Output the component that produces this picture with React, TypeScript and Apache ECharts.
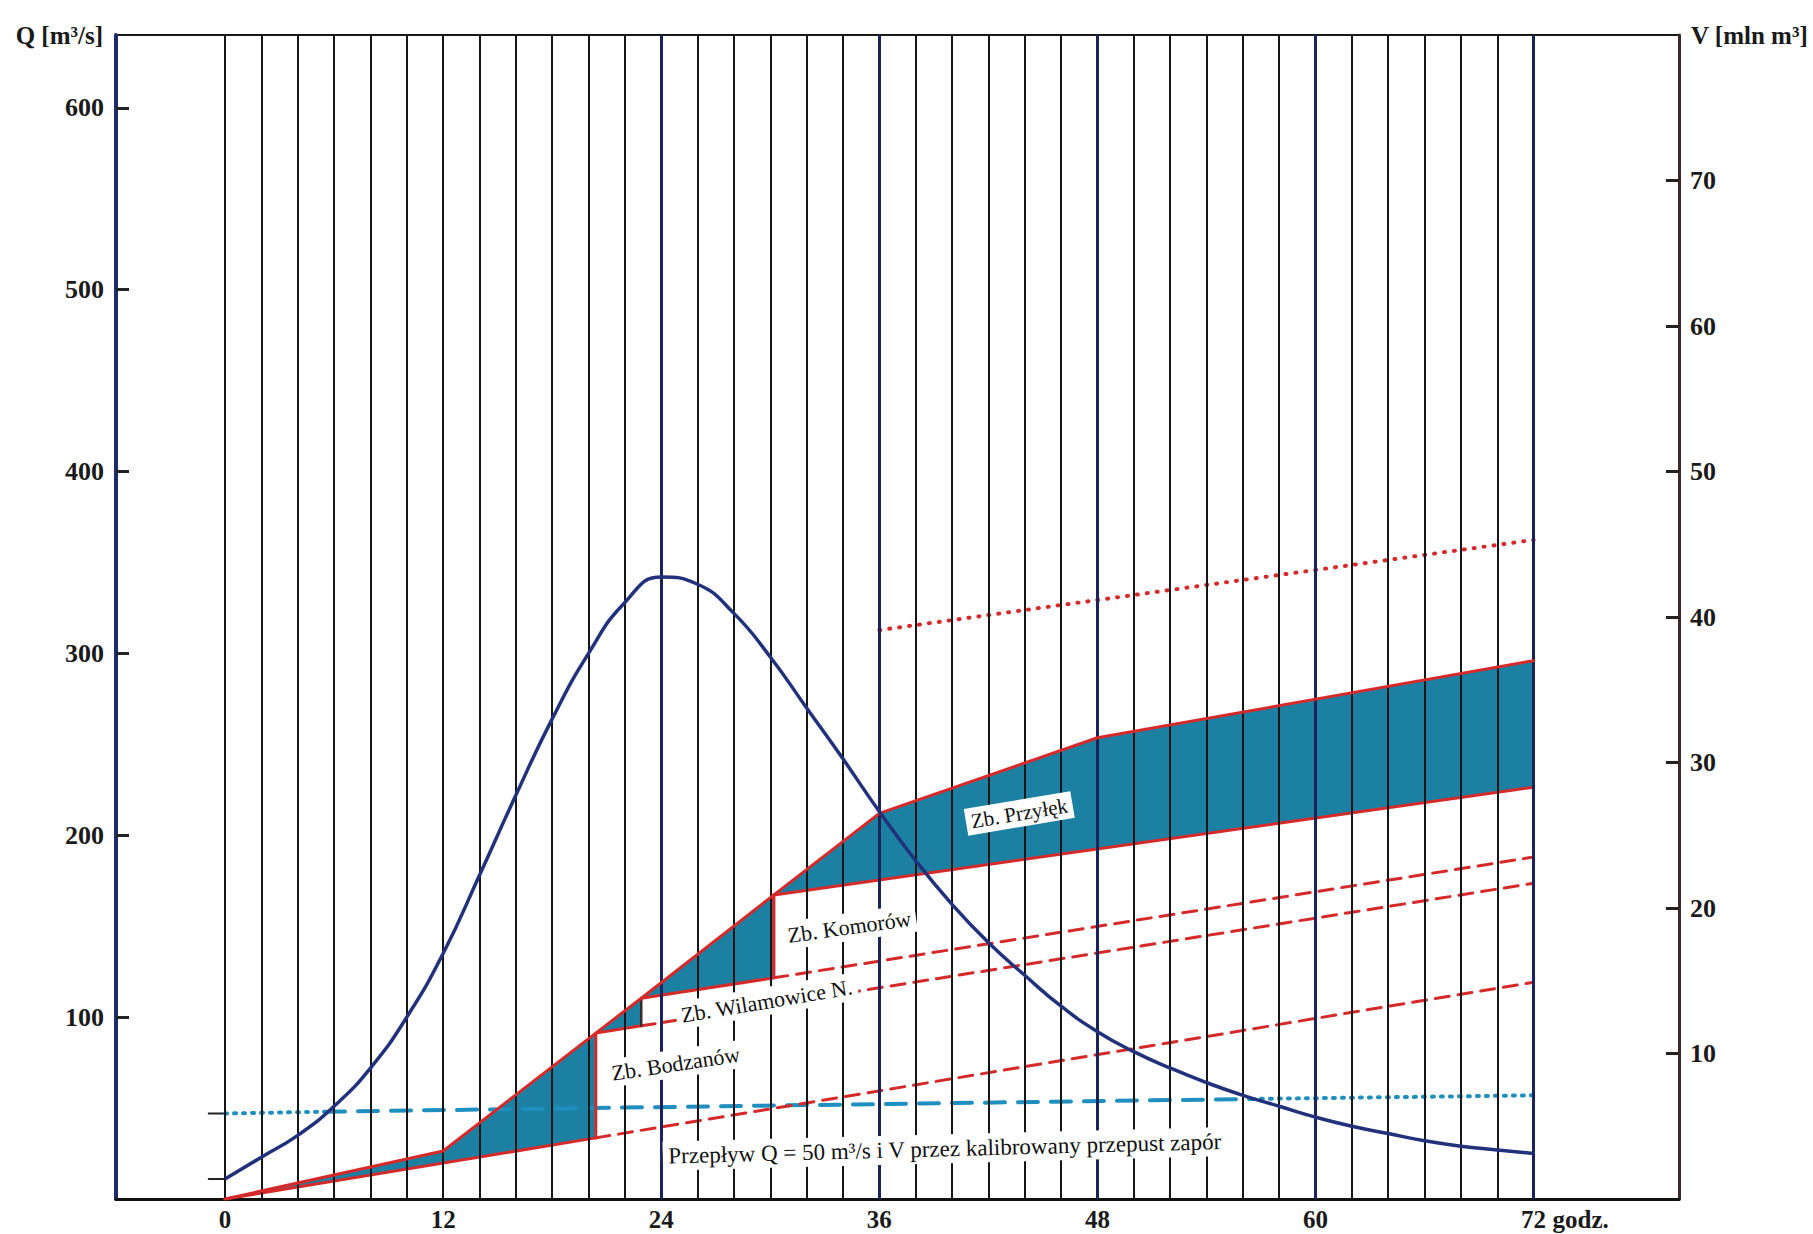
import React, { useEffect, useRef } from "react";
import * as echarts from "echarts";

// ---- data (hours, Q in m3/s, V in mln m3) ----
const HOURS = [0, 2, 4, 6, 8, 10, 12, 14, 16, 18, 20, 22, 24, 26, 28, 30, 32, 34, 36, 38, 40, 42, 44, 46, 48, 50, 52, 54, 56, 58, 60, 62, 64, 66, 68, 70, 72];
const Q_INFLOW = [11, 23, 35, 51, 72, 100, 135, 178, 222, 264, 300, 328, 342, 338, 322, 298, 270, 242, 213, 186, 162, 141, 123, 106, 92, 81, 72, 64, 57, 51, 45, 40, 36, 32, 29, 27, 25];

// constant outflow Q = 50 m3/s (as drawn)
const CYAN_H = [0, 5.5, 56.5, 72];
const CYAN_Q = [47, 48, 55, 57];

// cumulative inflow volume envelope
const ENV_H = [0, 12, 20.4, 22.9, 30.2, 36, 48, 72];
const ENV_V = [0, 3.3, 11.4, 13.8, 20.9, 26.5, 31.7, 37.0];

// outflow volume lines of the reservoirs [start, end of filling, 72 h]
const BODZ_H = [0, 20.4, 72];
const BODZ_V = [0, 4.2, 14.9];
const WILAM_H = [20.4, 22.9, 72];
const WILAM_V = [11.4, 11.9, 21.7];
const KOMOR_H = [22.9, 30.2, 72];
const KOMOR_V = [13.8, 15.2, 23.5];
const PRZYL_H = [30.2, 72];
const PRZYL_V = [20.9, 28.3];

// upper dotted volume line
const TOP_H = [36, 72];
const TOP_V = [39.1, 45.3];

const X_LABELS = [0, 12, 24, 36, 48, 60, 72];
const GRID_HOURS = [0, 2, 4, 6, 8, 10, 12, 14, 16, 18, 20, 22, 24, 26, 28, 30, 32, 34, 36, 38, 40, 42, 44, 46, 48, 50, 52, 54, 56, 58, 60, 62, 64, 66, 68, 70, 72];
const MAJOR_HOURS = [24, 36, 48, 60, 72];
const Q_TICKS = [100, 200, 300, 400, 500, 600];
const V_TICKS = [10, 20, 30, 40, 50, 60, 70];

const LABELS = [
  { text: "Zb. Bodzanów", h: 24.8, v: 9.3, rot: 8.5, size: 22 },
  { text: "Zb. Wilamowice N.", h: 29.8, v: 13.6, rot: 9.5, size: 22 },
  { text: "Zb. Komorów", h: 34.35, v: 18.7, rot: 8, size: 22 },
  { text: "Zb. Przyłęk", h: 43.7, v: 26.5, rot: 9.5, size: 21 },
  { text: "Przepływ Q = 50 m³/s i V przez kalibrowany przepust zapór", h: 39.6, v: 3.45, rot: 1.5, size: 23 },
];

const RED = "#d62a2a";
const TEAL = "#1c80a3";
const NAVY = "#22317c";
const CYAN = "#1f8fbf";
const SERIF = "'Liberation Serif', 'DejaVu Serif', serif";

const pts = (hs: number[], vs: number[]) => hs.map((h, i) => [h, vs[i]]);

function polygonFor(a: number, b: number, lowH: number[], lowV: number[]) {
  const upper = ENV_H.map((h, i) => [h, ENV_V[i]]).filter((p) => p[0] >= a - 1e-9 && p[0] <= b + 1e-9);
  const lower = lowH.map((h, i) => [h, lowV[i]]).filter((p) => p[0] >= a - 1e-9 && p[0] <= b + 1e-9).reverse();
  return upper.concat(lower);
}

const POLYS = [
  polygonFor(0, 20.4, BODZ_H, BODZ_V),
  polygonFor(20.4, 22.9, WILAM_H, WILAM_V),
  polygonFor(22.9, 30.2, KOMOR_H, KOMOR_V),
  polygonFor(30.2, 72, PRZYL_H, PRZYL_V),
];

function vLine(data: number[][], type: any, color = RED, width = 3, z = 4) {
  return {
    type: "line",
    xAxisIndex: 0,
    yAxisIndex: 1,
    data,
    showSymbol: false,
    symbol: "none",
    silent: true,
    z,
    lineStyle: { color, width, type, cap: "round" },
  };
}

function qLine(data: number[][], type: any, color: string, width: number, z = 4) {
  return {
    type: "line",
    xAxisIndex: 0,
    yAxisIndex: 0,
    data,
    showSymbol: false,
    symbol: "none",
    silent: true,
    z,
    lineStyle: { color, width, type, cap: "round" },
  };
}

const axisLabelStyle = {
  fontFamily: SERIF,
  fontWeight: "bold" as const,
  fontSize: 26,
  color: "#1a1a1a",
};

export default function App() {
  const ref = useRef<HTMLDivElement>(null);

  useEffect(() => {
    if (!ref.current) return;
    const chart = echarts.init(ref.current, null, { renderer: "svg" });

    const cyanPts = pts(CYAN_H, CYAN_Q);

    const option: any = {
      animation: false,
      backgroundColor: "#ffffff",
      grid: {
        left: 116,
        right: 134,
        top: 35,
        bottom: 35,
        show: true,
        borderColor: "#1a1a1a",
        borderWidth: 2,
        backgroundColor: "transparent",
      },
      xAxis: {
        type: "value",
        min: -6,
        max: 80,
        interval: 2,
        axisLine: { show: true, onZero: false, lineStyle: { color: "#111", width: 3 } },
        axisTick: { show: false },
        splitLine: { show: false },
        axisLabel: {
          ...axisLabelStyle,
          fontSize: 25,
          margin: 8,
          showMinLabel: true,
          showMaxLabel: true,
          formatter: (v: number) => (X_LABELS.indexOf(Math.round(v)) >= 0 && Math.abs(v - Math.round(v)) < 1e-6 ? String(Math.round(v)) : ""),
        },
      },
      yAxis: [
        {
          type: "value",
          min: 0,
          max: 640,
          interval: 100,
          position: "left",
          name: "Q [m³/s]",
          nameLocation: "end",
          nameGap: 0,
          nameTextStyle: { ...axisLabelStyle, fontSize: 25, align: "right", verticalAlign: "middle", padding: [8, 13, 0, 0] },
          axisLine: { show: true, onZero: false, lineStyle: { color: "#1d2a6b", width: 4 } },
          axisTick: { show: true, inside: true, length: 13, lineStyle: { color: "#222", width: 3 }, customValues: Q_TICKS },
          axisLabel: {
            ...axisLabelStyle,
            margin: 12,
            customValues: Q_TICKS,
            formatter: (v: number) => (Q_TICKS.indexOf(v) >= 0 ? String(v) : ""),
          },
          splitLine: { show: false },
        },
        {
          type: "value",
          min: 0,
          max: 80,
          interval: 10,
          position: "right",
          name: "V [mln m³]",
          nameLocation: "end",
          nameGap: 0,
          nameTextStyle: { ...axisLabelStyle, fontSize: 25, align: "left", verticalAlign: "middle", padding: [22, 0, 0, 12] },
          axisLine: { show: true, onZero: false, lineStyle: { color: "#3d2a2a", width: 3 } },
          axisTick: { show: true, inside: true, length: 13, lineStyle: { color: "#222", width: 3 }, customValues: V_TICKS },
          axisLabel: {
            ...axisLabelStyle,
            margin: 11,
            customValues: V_TICKS,
            formatter: (v: number) => (V_TICKS.indexOf(v) >= 0 ? String(v) : ""),
          },
          splitLine: { show: false },
        },
      ],
      series: [
        // filled reservoir volumes
        {
          type: "custom",
          xAxisIndex: 0,
          yAxisIndex: 1,
          silent: true,
          z: 1,
          data: POLYS.map((p) => p[0]),
          renderItem: (params: any, api: any) => {
            const poly = POLYS[params.dataIndex];
            return {
              type: "polygon",
              shape: { points: poly.map((p) => api.coord(p)) },
              style: { fill: TEAL, stroke: "none" },
            };
          },
        },
        // vertical grid lines every 2 h
        {
          type: "line",
          xAxisIndex: 0,
          yAxisIndex: 0,
          data: [[0, 0]],
          showSymbol: false,
          symbol: "none",
          lineStyle: { width: 0 },
          silent: true,
          z: 2,
          markLine: {
            silent: true,
            symbol: ["none", "none"],
            label: { show: false },
            lineStyle: { color: "#161616", width: 2, type: "solid" },
            data: GRID_HOURS.filter((h) => MAJOR_HOURS.indexOf(h) < 0).map((h) => ({ xAxis: h })),
          },
        },
        {
          type: "line",
          xAxisIndex: 0,
          yAxisIndex: 0,
          data: [[0, 0]],
          showSymbol: false,
          symbol: "none",
          lineStyle: { width: 0 },
          silent: true,
          z: 2,
          markLine: {
            silent: true,
            symbol: ["none", "none"],
            label: { show: false },
            lineStyle: { color: "#1b2458", width: 3, type: "solid" },
            data: MAJOR_HOURS.map((h) => ({ xAxis: h })),
          },
        },
        // small hand marks left of the 0 line
        qLine([[-0.9, Q_INFLOW[0]], [0, Q_INFLOW[0]]], "solid", "#222", 2, 3),
        qLine([[-0.9, CYAN_Q[0]], [0, CYAN_Q[0]]], "solid", "#222", 2, 3),
        // Q = 50 m3/s line
        qLine(cyanPts.slice(0, 2), [2, 7], CYAN, 4, 3),
        qLine(cyanPts.slice(1, 3), [20, 13], CYAN, 4, 3),
        qLine(cyanPts.slice(2, 4), [2, 7], CYAN, 4, 3),
        // volume envelope
        vLine(pts(ENV_H, ENV_V), "solid", RED, 3, 5),
        // Bodzanów outflow
        vLine(pts(BODZ_H, BODZ_V).slice(0, 2), "solid", RED, 3, 4),
        vLine(pts(BODZ_H, BODZ_V).slice(1, 3), [14, 9], RED, 3, 4),
        // Wilamowice outflow
        vLine(pts(WILAM_H, WILAM_V).slice(0, 2), "solid", RED, 3, 4),
        vLine(pts(WILAM_H, WILAM_V).slice(1, 3), [14, 9], RED, 3, 4),
        // Komorów outflow
        vLine(pts(KOMOR_H, KOMOR_V).slice(0, 2), "solid", RED, 3, 4),
        vLine(pts(KOMOR_H, KOMOR_V).slice(1, 3), [14, 9], RED, 3, 4),
        // Przyłęk outflow
        vLine(pts(PRZYL_H, PRZYL_V), "solid", RED, 3, 4),
        // vertical closures of the filled reservoirs
        vLine([[BODZ_H[1], BODZ_V[1]], [ENV_H[2], ENV_V[2]]], "solid", RED, 3, 4),
        vLine([[WILAM_H[1], WILAM_V[1]], [ENV_H[3], ENV_V[3]]], "solid", "#3a2a2a", 2.5, 4),
        vLine([[KOMOR_H[1], KOMOR_V[1]], [ENV_H[4], ENV_V[4]]], "solid", RED, 3, 4),
        // upper dotted line
        vLine(pts(TOP_H, TOP_V), [1, 9], RED, 4, 4),
        // inflow hydrograph
        {
          type: "line",
          xAxisIndex: 0,
          yAxisIndex: 0,
          data: HOURS.map((h, i) => [h, Q_INFLOW[i]]),
          smooth: 0.5,
          showSymbol: false,
          symbol: "none",
          silent: true,
          z: 6,
          lineStyle: { color: NAVY, width: 3.5 },
        },
      ],
    };

    chart.setOption(option);

    const graphics: any[] = LABELS.map((l) => {
      const p = chart.convertToPixel({ xAxisIndex: 0, yAxisIndex: 1 } as any, [l.h, l.v]) as number[];
      return {
        type: "text",
        x: p[0],
        y: p[1],
        rotation: (l.rot * Math.PI) / 180,
        z: 100,
        silent: true,
        style: {
          text: l.text,
          x: 0,
          y: 0,
          align: "center",
          verticalAlign: "middle",
          textAlign: "center",
          textVerticalAlign: "middle",
          fontFamily: SERIF,
          fontSize: l.size,
          fill: "#111",
          backgroundColor: "#ffffff",
          padding: [3, 5],
        },
      };
    });

    const p72 = chart.convertToPixel({ xAxisIndex: 0, yAxisIndex: 0 } as any, [72, 0]) as number[];
    graphics.push({
      type: "text",
      x: p72[0] + 19,
      y: p72[1] + 8,
      z: 100,
      silent: true,
      style: {
        text: "godz.",
        x: 0,
        y: 0,
        align: "left",
        verticalAlign: "top",
        textAlign: "left",
        textVerticalAlign: "top",
        fontFamily: SERIF,
        fontWeight: "bold",
        fontSize: 25,
        fill: "#1a1a1a",
      },
    });

    chart.setOption({ graphic: graphics });

    return () => {
      chart.dispose();
    };
  }, []);

  return (
    <div
      ref={ref}
      style={{ position: "absolute", left: 0, top: 0, width: 1813, height: 1234, background: "#fff" }}
    />
  );
}
